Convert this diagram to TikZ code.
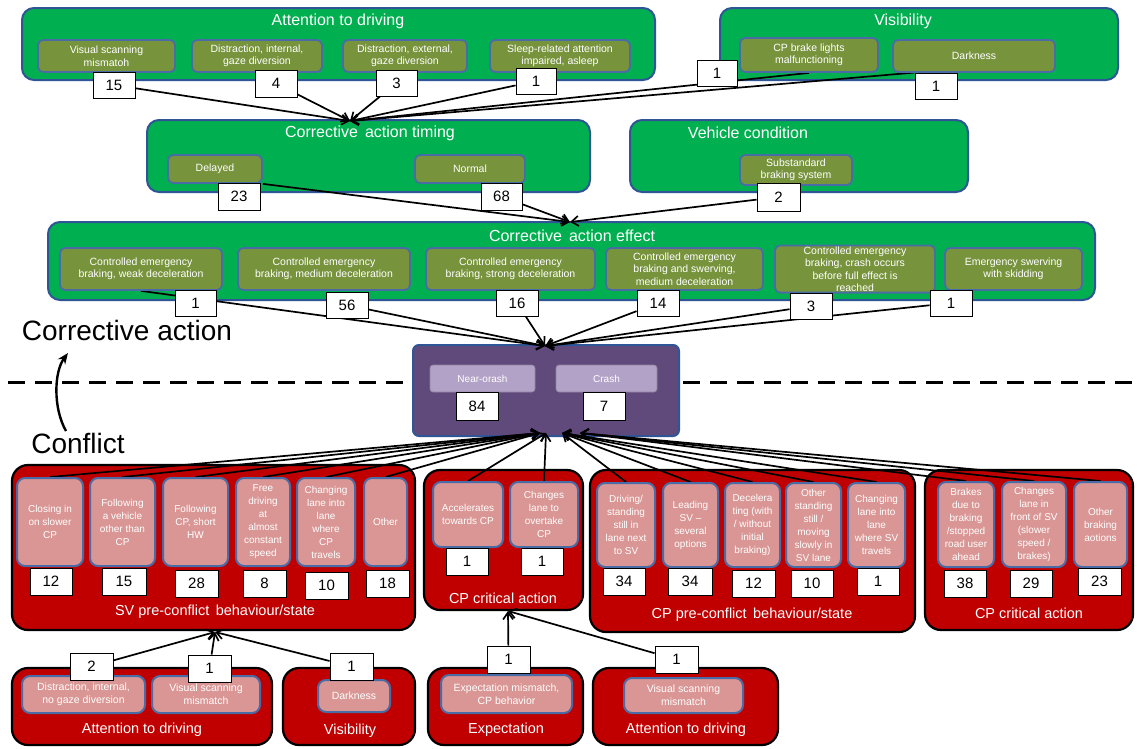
\documentclass[tikz,border=0pt]{standalone}
\usepackage{fontspec}
\setmainfont{Liberation Sans}
\usetikzlibrary{arrows.meta}
\definecolor{grn}{HTML}{00B050}
\definecolor{edgeblue}{HTML}{2F5597}
\definecolor{innerblue}{HTML}{4A6CA6}
\definecolor{olv}{HTML}{77933C}
\definecolor{redc}{HTML}{C00000}
\definecolor{pnk}{HTML}{D99694}
\definecolor{purp}{HTML}{604A7B}
\definecolor{lpurp}{HTML}{B3A2C7}
\newcommand\fs[2]{\fontsize{#1}{#2}\selectfont}
% box given by its corners: [options]{style}{name}{x1}{y1}{x2}{y2}{text}
\newcommand\mkbox[8][]{%
  \pgfmathsetmacro\mbx{(#4+#6)/2}%
  \pgfmathsetmacro\mby{(#5+#7)/2}%
  \pgfmathsetmacro\mbw{#6-#4}%
  \pgfmathsetmacro\mbh{#7-#5}%
  \node[#2,minimum width=\mbw pt,minimum height=\mbh pt,#1] (#3) at (\mbx,\mby) {#8};}
\pgfdeclarelayer{bg}
\pgfdeclarelayer{mid}
\pgfsetlayers{bg,mid,main}
\tikzset{
  grp/.style={draw=edgeblue,line width=2pt,fill=grn,rounded corners=12pt,inner sep=0pt},
  redgrp/.style={draw=black,line width=2.2pt,fill=redc,rounded corners=16pt,inner sep=0pt},
  purpgrp/.style={draw=edgeblue,line width=2pt,fill=purp,rounded corners=6pt,inner sep=0pt},
  olbox/.style={draw=innerblue,line width=1.8pt,fill=olv,rounded corners=5pt,text=white,font=\fs{10.5}{12.5},align=center,inner sep=1pt},
  pkbox/.style={draw=innerblue,line width=2pt,fill=pnk,rounded corners=8pt,text=white,font=\fs{10}{13},align=center,inner sep=1pt},
  pkwide/.style={pkbox,font=\fs{10.5}{13}},
  pubox/.style={draw=lpurp!80!black,line width=0.6pt,fill=lpurp,rounded corners=3pt,text=white,font=\fs{10}{12},inner sep=1pt},
  num/.style={draw=black,line width=0.9pt,fill=white,font=\fs{15}{17},inner sep=0pt},
  ttl/.style={text=white,font=\fs{16}{18},inner sep=0pt},
  rttl/.style={text=white,font=\fs{14.5}{17},inner sep=0pt},
  bigtxt/.style={font=\fs{28}{32},inner sep=0pt},
  arr/.style={line width=1.7pt,-{Straight Barb[length=7pt,width=10pt,line width=1.7pt]}},
  bigarr/.style={line width=2.4pt,-{Stealth[length=11pt,width=9pt]}},
}
\begin{document}
\begin{tikzpicture}[x=1pt,y=-1pt]
\useasboundingbox (0,0) rectangle (1137,748);

% ---------- group frames ----------
\begin{pgfonlayer}{bg}
\fill[white] (0,0) rectangle (1137,748);
\coordinate (dashL) at (8,382);
\coordinate (dashR) at (1137,382);
\draw[line width=3pt,dash pattern=on 17pt off 10pt] (dashL) -- (dashR);
\mkbox{grp}{attTop}{22}{8}{655}{80}{}
\mkbox{grp}{visTop}{720}{8}{1118}{80}{}
\mkbox{grp}{timing}{147}{120}{590}{192}{}
\mkbox{grp}{vehicle}{630}{120}{968}{192}{}
\mkbox{grp}{effect}{48}{222}{1095}{300}{}
\mkbox{purpgrp}{outcome}{413}{345}{679}{436}{}
\mkbox{redgrp}{svpre}{12}{465}{415}{630}{}
\mkbox{redgrp}{cpmid}{424}{470}{583}{610}{}
\mkbox{redgrp}{cppre}{590}{470}{915}{632}{}
\mkbox{redgrp}{cpright}{925}{470}{1133}{630}{}
\mkbox{redgrp}{attBotL}{12}{668}{272}{745}{}
\mkbox{redgrp}{visBot}{283}{668}{415}{745}{}
\mkbox{redgrp}{expBot}{428}{668}{583}{745}{}
\mkbox{redgrp}{attBotR}{593}{668}{778}{745}{}
\end{pgfonlayer}

% ---------- titles ----------
\node[ttl] (attTopT) at (338,21) {Attention to driving};
\node[ttl] (visTopT) at (903,21) {Visibility};
\node[ttl] (timingT) at (370,133) {Corrective\, action timing};
\node[ttl] (vehicleT) at (748,133) {Vehicle condition};
\node[ttl] (effectT) at (572,236) {Corrective\, action effect};
\node[rttl] (svpreT) at (215,612) {SV pre-conflict\, behaviour/state};
\node[rttl] (cpmidT) at (503,598) {CP critical action};
\node[rttl] (cppreT) at (752,615) {CP pre-conflict\, behaviour/state};
\node[rttl] (cprightT) at (1029,613) {CP critical action};
\node[rttl] (attBotLT) at (142,730) {Attention to driving};
\node[rttl] (visBotT) at (350,731) {Visibility};
\node[rttl] (expBotT) at (506,730) {Expectation};
\node[rttl] (attBotRT) at (686,730) {Attention to driving};
\node[bigtxt] (corr) at (127,330) {Corrective action};
\node[bigtxt] (confl) at (78,443) {Conflict};

% ---------- factor boxes, top ----------
\mkbox{olbox}{ol1}{38}{40}{175}{72}{Visual scanning\\mismatoh}
\mkbox{olbox}{ol2}{192}{40}{322}{72}{Distraction, internal,\\gaze diversion}
\mkbox{olbox}{ol3}{343}{40}{467}{72}{Distraction, external,\\gaze diversion}
\mkbox{olbox}{ol4}{490}{40}{630}{72}{Sleep-related attention\\impaired, asleep}
\mkbox{olbox}{ol5}{740}{38}{878}{72}{CP brake lights\\malfunctioning}
\mkbox{olbox}{ol6}{893}{40}{1055}{72}{Darkness}
\mkbox{olbox}{ol7}{168}{155}{262}{183}{Delayed}
\mkbox{olbox}{ol8}{415}{155}{525}{183}{Normal}
\mkbox{olbox}{ol9}{740}{155}{852}{185}{Substandard\\braking system}
\mkbox{olbox}{ol10}{60}{248}{222}{290}{Controlled emergency\\braking, weak deceleration}
\mkbox{olbox}{ol11}{238}{248}{410}{290}{Controlled emergency\\braking, medium deceleration}
\mkbox{olbox}{ol12}{426}{248}{595}{290}{Controlled emergency\\braking, strong deceleration}
\mkbox{olbox}{ol13}{606}{248}{763}{290}{Controlled emergency\\braking and swerving,\\medium deceleration}
\mkbox{olbox}{ol14}{775}{248}{935}{290}{Controlled emergency\\braking, crash occurs\\before full effect is\\reached}
\mkbox{olbox}{ol15}{945}{248}{1082}{290}{Emergency swerving\\with skidding}

% ---------- outcome ----------
\mkbox{pubox}{pu1}{430}{365}{535}{392}{Near-orash}
\mkbox{pubox}{pu2}{556}{365}{657}{392}{Crash}

% ---------- factor boxes, bottom ----------
\mkbox{pkbox}{pk1}{17}{478}{83}{566}{Closing in\\on slower\\CP}
\mkbox{pkbox}{pk2}{90}{478}{155}{566}{Following\\a vehicle\\other than\\CP}
\mkbox{pkbox}{pk3}{163}{478}{228}{566}{Following\\CP, short\\HW}
\mkbox{pkbox}{pk4}{236}{478}{290}{566}{Free\\driving\\at\\almost\\constant\\speed}
\mkbox{pkbox}{pk5}{297}{478}{355}{566}{Changing\\lane into\\lane\\where\\CP\\travels}
\mkbox{pkbox}{pk6}{364}{478}{407}{566}{Other}
\mkbox{pkbox}{pk7}{433}{482}{503}{547}{Accelerates\\towards CP}
\mkbox{pkbox}{pk8}{510}{482}{578}{547}{Changes\\lane to\\overtake\\CP}
\mkbox{pkbox}{pk9}{597}{483}{655}{567}{Driving/\\standing\\still in\\lane next\\to SV}
\mkbox{pkbox}{pk10}{663}{483}{718}{567}{Leading\\SV –\\several\\options}
\mkbox{pkbox}{pk11}{725}{483}{780}{567}{Decelera\\ting (with\\/ without\\initial\\braking)}
\mkbox{pkbox}{pk12}{786}{483}{841}{567}{Other\\standing\\still /\\moving\\slowly in\\SV lane}
\mkbox{pkbox}{pk13}{848}{483}{905}{567}{Changing\\lane into\\lane\\where SV\\travels}
\mkbox{pkbox}{pk14}{938}{482}{994}{567}{Brakes\\due to\\braking\\/stopped\\road user\\ahead}
\mkbox{pkbox}{pk15}{1002}{482}{1066}{567}{Changes\\lane in\\front of SV\\(slower\\speed /\\brakes)}
\mkbox{pkbox}{pk16}{1074}{482}{1127}{567}{Other\\braking\\aotions}
\mkbox{pkwide}{pk17}{22}{676}{145}{713}{Distraction, internal,\\no gaze diversion}
\mkbox{pkwide}{pk18}{152}{676}{260}{713}{Visual scanning\\mismatch}
\mkbox{pkwide}{pk19}{318}{680}{390}{712}{Darkness}
\mkbox{pkwide}{pk20}{441}{675}{572}{713}{Expectation mismatch,\\CP behavior}
\mkbox{pkwide}{pk21}{624}{678}{743}{713}{Visual scanning\\mismatch}

% ---------- counts ----------
\mkbox{num}{n1}{93}{72}{135}{98}{15}
\mkbox{num}{n2}{255}{70}{297}{97}{4}
\mkbox{num}{n3}{376}{70}{417}{96}{3}
\mkbox{num}{n4}{516}{68}{556}{94}{1}
\mkbox{num}{n5}{697}{60}{737}{86}{1}
\mkbox{num}{n6}{915}{73}{957}{99}{1}
\mkbox{num}{n7}{218}{183}{260}{210}{23}
\mkbox{num}{n8}{481}{183}{522}{210}{68}
\mkbox{num}{n9}{757}{183}{800}{211}{2}
\mkbox{num}{n10}{175}{290}{216}{316}{1}
\mkbox{num}{n11}{326}{292}{368}{318}{56}
\mkbox{num}{n12}{496}{290}{538}{316}{16}
\mkbox{num}{n13}{637}{290}{679}{316}{14}
\mkbox{num}{n14}{790}{293}{832}{319}{3}
\mkbox{num}{n15}{930}{290}{972}{316}{1}
\mkbox{num}{n16}{456}{392}{498}{420}{84}
\mkbox{num}{n17}{583}{392}{625}{420}{7}
\mkbox{num}{n18}{30}{568}{72}{595}{12}
\mkbox{num}{n19}{102}{568}{146}{595}{15}
\mkbox{num}{n20}{175}{570}{218}{597}{28}
\mkbox{num}{n21}{243}{570}{286}{597}{8}
\mkbox{num}{n22}{305}{572}{348}{599}{10}
\mkbox{num}{n23}{366}{570}{409}{597}{18}
\mkbox{num}{n24}{446}{548}{488}{575}{1}
\mkbox{num}{n25}{521}{548}{563}{575}{1}
\mkbox{num}{n26}{603}{568}{645}{595}{34}
\mkbox{num}{n27}{668}{568}{712}{595}{34}
\mkbox{num}{n28}{732}{570}{775}{597}{12}
\mkbox{num}{n29}{791}{570}{833}{597}{10}
\mkbox{num}{n30}{857}{568}{899}{595}{1}
\mkbox{num}{n31}{944}{570}{986}{597}{38}
\mkbox{num}{n32}{1010}{570}{1052}{597}{29}
\mkbox{num}{n33}{1078}{568}{1121}{595}{23}
\mkbox{num}{n34}{70}{653}{113}{680}{2}
\mkbox{num}{n35}{188}{655}{231}{682}{1}
\mkbox{num}{n36}{330}{653}{373}{680}{1}
\mkbox{num}{n37}{487}{646}{530}{673}{1}
\mkbox{num}{n38}{655}{646}{698}{673}{1}

% ---------- connectors ----------
\coordinate (tTiming) at (350,121);
\coordinate (tEffect) at (570,222);
\coordinate (tOutTop) at (545,346);
\coordinate (tSV) at (540,433);
\coordinate (tCPm) at (546,433);
\coordinate (tCPp) at (562,433);
\coordinate (tCPr) at (580,433);
\coordinate (tSVbot) at (215,632);
\coordinate (tCPmbot) at (508,611);
\coordinate (curveA) at (66,431);
\coordinate (curveB) at (68,353);
\begin{pgfonlayer}{mid}
\foreach \s in {n1,n2,n3,n4} \draw[arr] (\s) -- (tTiming);
\draw[arr] (ol5.south) -- (tTiming);
\draw[arr] (n6.north west) -- (tTiming);
\draw[arr] (ol7.south east) -- (tEffect);
\draw[arr] (n8) -- (tEffect);
\draw[arr] (n9) -- (tEffect);
\draw[arr] (ol10.south) -- (tOutTop);
\foreach \s in {n11,n12,n13,n14,n15} \draw[arr] (\s) -- (tOutTop);
\foreach \s in {pk1,pk2,pk3,pk4,pk5,pk6} \draw[arr] (\s.north) -- (tSV);
\foreach \s in {pk7,pk8} \draw[arr] (\s.north) -- (tCPm);
\foreach \s in {pk9,pk10,pk11,pk12,pk13} \draw[arr] (\s.north) -- (tCPp);
\foreach \s in {pk14,pk15,pk16} \draw[arr] (\s.north) -- (tCPr);
\foreach \s in {n34,n35,n36} \draw[arr] (\s) -- (tSVbot);
\foreach \s in {n37,n38} \draw[arr] (\s) -- (tCPmbot);
\end{pgfonlayer}
\draw[bigarr] (curveA) .. controls (53,408) and (54,372) .. (curveB);
\end{tikzpicture}
\end{document}
